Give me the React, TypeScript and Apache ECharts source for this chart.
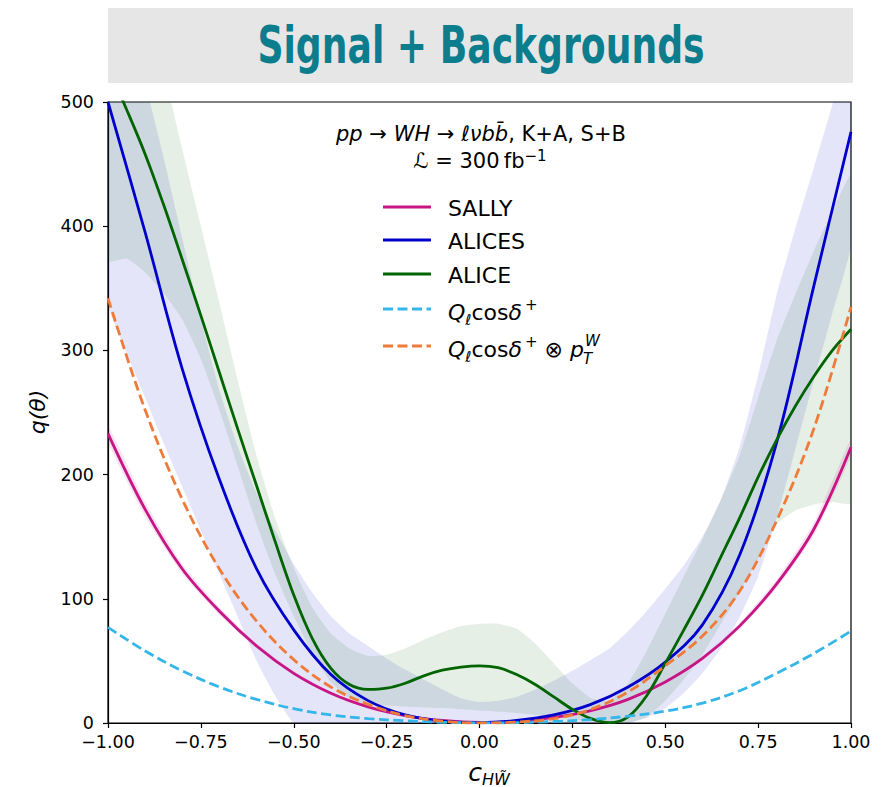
import React, { useEffect, useRef } from "react";
import * as echarts from "echarts";

const FONT = '"DejaVu Sans", sans-serif';
const TITLE_FONT = '"Liberation Sans Narrow", "DejaVu Sans Condensed", "DejaVu Sans", sans-serif';

const titleText = "Signal + Backgrounds";
const legendNames = ["SALLY", "ALICES", "ALICE", "Q_l cos delta+", "Q_l cos delta+ x pTW"];

const xTicks = [-1, -0.75, -0.5, -0.25, 0, 0.25, 0.5, 0.75, 1];
const xTickLabels = ["\u22121.00", "\u22120.75", "\u22120.50", "\u22120.25", "0.00", "0.25", "0.50", "0.75", "1.00"];
const yTicks = [0, 100, 200, 300, 400, 500];
const yTickLabels = ["0", "100", "200", "300", "400", "500"];

// Curves read on a 0.1 grid
const lineX = [-1, -0.9, -0.8, -0.7, -0.6, -0.5, -0.4, -0.3, -0.2, -0.1, 0, 0.1, 0.2, 0.3, 0.4, 0.5, 0.6, 0.7, 0.8, 0.9, 1];
const sally = [233, 172, 124, 90, 62, 40, 24, 13, 6, 2, 0.5, 1.2, 4.5, 10, 19, 33, 52, 78, 112, 156, 222];
const sallyLo = [226, 166, 120, 87, 60, 38.5, 23, 12.5, 5.7, 1.8, 0.4, 1.1, 4.3, 9.6, 18.3, 32, 50.5, 75.5, 108.5, 151, 215];
const sallyHi = [240, 178, 128, 93, 64, 41.5, 25, 13.5, 6.3, 2.2, 0.6, 1.3, 4.7, 10.4, 19.7, 34, 53.5, 80.5, 115.5, 161, 229];
const alices = [500, 395, 285, 196, 124, 75, 39, 18, 6.5, 1.5, 0.3, 2, 6.5, 15, 29, 49, 79, 135, 226, 352, 476];
const qlCosPtw = [342, 252, 180, 124, 82, 51, 29, 15, 6, 1.5, 0, 0.8, 3.5, 11, 25, 46, 70, 106, 163, 237, 335];
const qlCos = [77, 58, 42, 29, 19, 11.5, 6.5, 3.5, 1.8, 0.6, 0.1, 0.3, 1.2, 2.8, 5.5, 9.5, 16, 26, 40, 56, 74];

// Finer grid (0.05) for ALICE and the bands
const fineX = [-1, -0.95, -0.9, -0.85, -0.8, -0.75, -0.7, -0.65, -0.6, -0.55, -0.5, -0.45, -0.4, -0.35, -0.3, -0.25, -0.2, -0.15, -0.1, -0.05, 0, 0.05, 0.1, 0.15, 0.2, 0.25, 0.3, 0.35, 0.4, 0.45, 0.5, 0.55, 0.6, 0.65, 0.7, 0.75, 0.8, 0.85, 0.9, 0.95, 1];
const alice = [528, 494, 458, 417, 373, 328, 282, 236, 191, 146, 103, 68, 44, 31, 27, 28, 32, 38, 42.5, 45, 46, 44.5, 39, 31, 21, 11, 3.5, 0.3, 5, 22, 48, 75, 103, 134, 165, 198, 228, 255, 279, 300, 317];
const alicesLo = [338, 298, 262, 225, 190, 155, 120, 85, 50, 22, 0, 0, 0, 0, 0, 0, 0, 0, 0, 0, 0, 0, 0, 0, 0, 0, 0, 0, 0, 4, 12, 24, 40, 60, 85, 118, 165, 220, 276, 330, 385];
const alicesHi = [620, 570, 515, 455, 390, 325, 268, 222, 185, 155, 128, 105, 86, 72, 62, 52, 43, 35, 27, 20, 17, 18, 21, 27, 34, 42, 51, 60, 74, 90, 108, 127, 150, 180, 222, 280, 345, 398, 447, 498, 550];
const aliceLo = [372, 374, 363, 346, 325, 293, 252, 206, 160, 120, 86, 56, 33, 20, 15, 14, 13, 12.5, 12, 11, 10, 9, 8, 6.5, 5, 3, 1, 0, 0, 5, 18, 35, 55, 80, 105, 132, 160, 171, 176, 178, 177];
const aliceHi = [700, 640, 580, 525, 462, 400, 338, 275, 215, 165, 125, 93, 72, 60, 54, 55, 60, 67, 73, 78, 80, 80, 76, 64, 48, 32, 20, 18, 32, 58, 88, 118, 148, 180, 215, 262, 308, 345, 380, 412, 441];

const C_SALLY = "#c71585";
const C_ALICES = "#0000cd";
const C_ALICE = "#006400";
const C_CYAN = "#35b6e9";
const C_ORANGE = "#ef7b3a";

const pairs = (xs: number[], ys: number[]) => xs.map((x, i) => [x, ys[i]]);

function band(xs: number[], lo: number[], hi: number[], color: string) {
  return {
    type: "custom",
    coordinateSystem: "cartesian2d",
    clip: true,
    silent: true,
    z: 1,
    data: [[xs[0], lo[0]]],
    renderItem: (_params: any, api: any) => {
      const pts: number[][] = [];
      for (let i = 0; i < xs.length; i++) pts.push(api.coord([xs[i], hi[i]]));
      for (let i = xs.length - 1; i >= 0; i--) pts.push(api.coord([xs[i], lo[i]]));
      return { type: "polygon", shape: { points: pts, smooth: 0.15 }, style: { fill: color } };
    },
  };
}

function curve(name: string, xs: number[], ys: number[], color: string, dashed: boolean) {
  return {
    type: "line", name, data: pairs(xs, ys), symbol: "none", smooth: 0.35, z: 3,
    lineStyle: { color, width: 2.8, type: dashed ? [10, 4.5] : "solid", cap: "butt" },
  };
}

export default function App() {
  const ref = useRef<HTMLDivElement>(null);
  useEffect(() => {
    const el = ref.current as HTMLDivElement;
    const chart = echarts.init(el, null, { renderer: "svg" });
    const ctx = document.createElement("canvas").getContext("2d") as CanvasRenderingContext2D;
    const mw = (t: string, font: string) => { ctx.font = font; return ctx.measureText(t).width; };

    const titleFontSize = 51;
    const titleW = mw(titleText, `bold ${titleFontSize}px ${TITLE_FONT}`);
    const titleScale = 447 / titleW;

    const LS = 22; // legend font size
    const SS = 15; // script size
    const rich = {
      n: { fontFamily: FONT, fontSize: LS, fill: "#000", lineHeight: 30 },
      i: { fontFamily: FONT, fontSize: LS, fontStyle: "italic", fill: "#000", lineHeight: 30 },
      sub: { fontFamily: FONT, fontSize: SS, fontStyle: "italic", fill: "#000", lineHeight: 15, verticalAlign: "bottom" },
      sup: { fontFamily: FONT, fontSize: SS, fill: "#000", lineHeight: 15, verticalAlign: "top" },
    };

    const lx1 = 383, lx2 = 431, tx = 448;
    const rows = [
      { y: 207, color: C_SALLY, dash: false, text: "{n|SALLY}" },
      { y: 240, color: C_ALICES, dash: false, text: "{n|ALICES}" },
      { y: 274, color: C_ALICE, dash: false, text: "{n|ALICE}" },
      { y: 309, color: C_CYAN, dash: true, text: "{i|Q}{sub|\u2113}{n|cos}{i|\u03b4}{sup|\u2009+}" },
      { y: 346, color: C_ORANGE, dash: true, text: "{i|Q}{sub|\u2113}{n|cos}{i|\u03b4}{sup|\u2009+}{n| \u2297 }{i|p}" },
    ];
    const textDy = [1, 1, 1, 3, 3];

    const legendGraphics: any[] = [];
    rows.forEach((r, k) => {
      legendGraphics.push({
        type: "line", shape: { x1: lx1, y1: r.y, x2: lx2, y2: r.y },
        style: { stroke: r.color, lineWidth: 2.8, lineDash: r.dash ? [10, 4.5] : null },
      });
      legendGraphics.push({
        type: "text", x: tx, y: r.y + textDy[k],
        style: { text: r.text, rich, textAlign: "left", textVerticalAlign: "middle" },
      });
    });
    const fI = `italic ${LS}px ${FONT}`, fN = `${LS}px ${FONT}`, fS = `italic ${SS}px ${FONT}`, fSN = `${SS}px ${FONT}`;
    const wPre = mw("Q", fI) + mw("\u2113", fS) + mw("cos", fN) + mw("\u03b4", fI) + mw("\u2009+", fSN) + mw(" \u2297 ", fN) + mw("p", fI);
    const cy = 346 + 3;
    legendGraphics.push({ type: "text", x: tx + wPre + 1, y: cy - 8, style: { text: "W", fontFamily: FONT, fontSize: SS, fontStyle: "italic", fill: "#000", textAlign: "left", textVerticalAlign: "middle" } });
    legendGraphics.push({ type: "text", x: tx + wPre - 1, y: cy + 10, style: { text: "T", fontFamily: FONT, fontSize: SS, fontStyle: "italic", fill: "#000", textAlign: "left", textVerticalAlign: "middle" } });

    const annRich = {
      n: { fontFamily: FONT, fontSize: 21, fill: "#000", lineHeight: 26 },
      i: { fontFamily: FONT, fontSize: 21, fontStyle: "italic", fill: "#000", lineHeight: 26 },
      sup: { fontFamily: FONT, fontSize: 15, fill: "#000", lineHeight: 14, verticalAlign: "top" },
    };

    const option: any = {
      animation: false,
      grid: { left: 108, top: 102, right: 36, bottom: 64, show: true, borderColor: "#000", borderWidth: 1.2, containLabel: false, outerBoundsMode: "none" },
      xAxis: {
        type: "value", min: xTicks[0], max: xTicks[xTicks.length - 1], interval: 0.25,
        axisLine: { show: true, onZero: false, lineStyle: { color: "#000", width: 1.2 } },
        axisTick: { show: true, length: 5, lineStyle: { color: "#000", width: 1.2 } },
        splitLine: { show: false },
        axisLabel: {
          color: "#000", fontSize: 17.5, fontFamily: FONT, margin: 10,
          formatter: (v: number) => { const k = xTicks.findIndex((t) => Math.abs(t - v) < 1e-9); return k >= 0 ? xTickLabels[k] : ""; },
        },
      },
      yAxis: {
        type: "value", min: yTicks[0], max: yTicks[yTicks.length - 1], interval: 100,
        axisLine: { show: true, onZero: false, lineStyle: { color: "#000", width: 1.2 } },
        axisTick: { show: true, length: 5, lineStyle: { color: "#000", width: 1.2 } },
        splitLine: { show: false },
        axisLabel: {
          color: "#000", fontSize: 17.5, fontFamily: FONT, margin: 14,
          formatter: (v: number) => { const k = yTicks.findIndex((t) => Math.abs(t - v) < 1e-9); return k >= 0 ? yTickLabels[k] : ""; },
        },
      },
      series: [
        band(fineX, alicesLo, alicesHi, "rgba(0,0,205,0.1)"),
        band(fineX, aliceLo, aliceHi, "rgba(0,100,0,0.1)"),
        band(lineX, sallyLo, sallyHi, "rgba(199,21,133,0.12)"),
        curve(legendNames[0], lineX, sally, C_SALLY, false),
        curve(legendNames[1], lineX, alices, C_ALICES, false),
        curve(legendNames[2], fineX, alice, C_ALICE, false),
        curve(legendNames[3], lineX, qlCos, C_CYAN, true),
        curve(legendNames[4], lineX, qlCosPtw, C_ORANGE, true),
      ],
      graphic: [
        { type: "rect", shape: { x: 108, y: 8, width: 745, height: 75 }, style: { fill: "#e6e6e6" }, z: 0 },
        {
          type: "text", x: 481, y: 45, scaleX: titleScale, scaleY: 1,
          style: { text: titleText, font: `bold ${titleFontSize}px ${TITLE_FONT}`, fill: "#0b7d8d", textAlign: "center", textVerticalAlign: "middle" },
        },
        {
          type: "text", x: 481, y: 134,
          style: { text: "{i|pp \u2192 WH \u2192 \u2113\u03bdbb\u0304}{n|, K+A, S+B}", rich: annRich, textAlign: "center", textVerticalAlign: "middle" },
        },
        {
          type: "text", x: 480, y: 161,
          style: { text: "{i|\u2112}{n| = 300\u2009fb}{sup|\u22121}", rich: annRich, textAlign: "center", textVerticalAlign: "middle" },
        },
        ...legendGraphics,
        {
          type: "text", x: 37, y: 412, rotation: Math.PI / 2,
          style: { text: "q(\u03b8)", fontFamily: FONT, fontSize: 22, fontStyle: "italic", fill: "#000", textAlign: "center", textVerticalAlign: "middle" },
        },
        {
          type: "text", x: 489, y: 772,
          style: {
            text: "{c|c}{s|HW\u0303}",
            rich: {
              c: { fontFamily: FONT, fontSize: 25, fontStyle: "italic", fill: "#000", lineHeight: 30 },
              s: { fontFamily: FONT, fontSize: 16, fontStyle: "italic", fill: "#000", lineHeight: 16, verticalAlign: "bottom" },
            },
            textAlign: "center", textVerticalAlign: "middle",
          },
        },
      ],
    };
    chart.setOption(option);
    return () => chart.dispose();
  }, []);
  return <div ref={ref} style={{ position: "absolute", left: 0, top: 0, width: 887, height: 787 }} />;
}
